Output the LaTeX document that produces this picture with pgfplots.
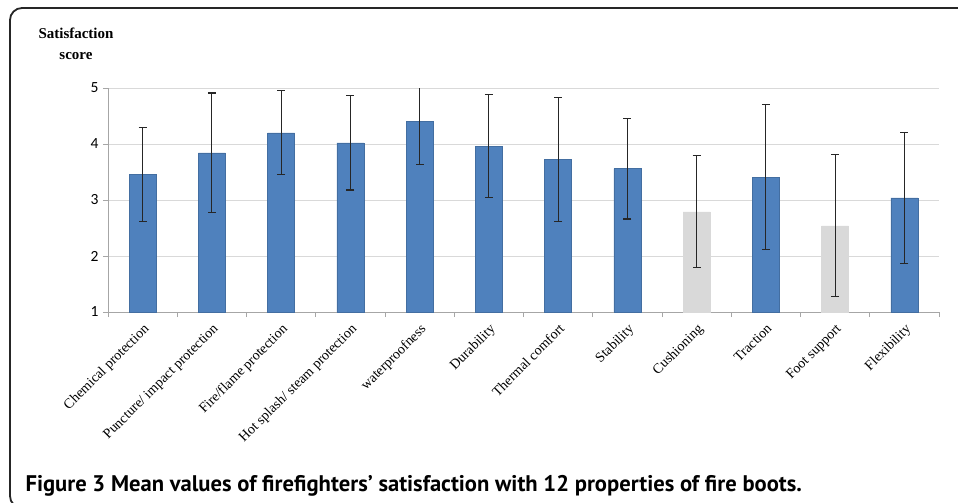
\documentclass[border=0pt]{standalone}
\usepackage{pgfplots}
\pgfplotsset{compat=1.18}
\usepackage{fontspec}
\setmainfont{Liberation Serif}
\newfontfamily\tickfont{Carlito}
\newfontfamily\capfont{PT Sans}
\definecolor{barblue}{HTML}{4F81BD}
\definecolor{bargray}{HTML}{D9D9D9}
\definecolor{gridc}{HTML}{D9D9D9}
\definecolor{axc}{HTML}{A6A6A6}
\begin{document}
\begin{tikzpicture}[x=1pt,y=1pt]
\path[use as bounding box] (0,0) rectangle (958,-503);
\begin{scope}
\clip (0,0) rectangle (958,-503);
\draw[line width=1.8pt, rounded corners=12pt, black!85] (10,-8) rectangle (990,-508);
\node[align=center, font=\bfseries\fontsize{15}{21}\selectfont] at (76,-44) {Satisfaction\\score};
\begin{axis}[
  at={(108pt,-312pt)}, anchor=south west,
  scale only axis, width=831pt, height=224pt,
  xmin=-0.5, xmax=11.5, ymin=1, ymax=5,
  axis x line*=bottom, axis y line*=left,
  axis line style={axc, line width=0.8pt},
  xtick={0,...,11},
  xticklabels={Chemical protection, Puncture/ impact protection, Fire/flame protection, Hot splash/ steam protection, waterproofness, Durability, Thermal comfort, Stability, Cushioning, Traction, Foot support, Flexibility},
  major x tick style={draw=none},
  minor xtick={-0.5,0.5,...,11.5},
  minor x tick style={axc, line width=0.8pt},
  minor tick length=5pt,
  ytick={1,2,3,4,5},
  major y tick style={axc, line width=0.8pt},
  major tick length=5pt,
  tick align=outside,
  ymajorgrids, grid style={gridc, line width=0.8pt},
  xticklabel style={rotate=45, anchor=north east, font=\fontsize{14}{15}\selectfont, inner sep=1pt, xshift=-3pt, yshift=-3pt},
  yticklabel style={font=\tickfont\fontsize{15.5}{16}\selectfont, /pgf/number format/assume math mode=true, xshift=-1pt},
  ybar, bar width=27pt, bar shift=0pt,
  error bars/y dir=both, error bars/y explicit,
  error bars/error bar style={black!85, line width=1.2pt},
  error bars/error mark options={rotate=90, mark size=4pt, line width=1.2pt, black!85},
]
\addplot[fill=barblue, draw=barblue!85!black, line width=0.4pt] coordinates {
  (0,3.46) +- (0,0.84)
  (1,3.84) +- (0,1.07)
  (2,4.20) +- (0,0.75)
  (3,4.02) +- (0,0.84)
  (4,4.41) +- (0,0.78)
  (5,3.96) +- (0,0.92)
  (6,3.72) +- (0,1.11)
  (7,3.56) +- (0,0.90)
  (9,3.41) +- (0,1.30)
  (11,3.04) +- (0,1.17)
};
\addplot[fill=bargray, draw=bargray, line width=0.4pt] coordinates {
  (8,2.79) +- (0,1.00)
  (10,2.54) +- (0,1.27)
};
\end{axis}
\node[anchor=base west, font=\capfont\bfseries\fontsize{22.6}{24}\selectfont] at (22,-491) {Figure 3 Mean values of firefighters’ satisfaction with 12 properties of fire boots.};
\end{scope}
\end{tikzpicture}
\end{document}
